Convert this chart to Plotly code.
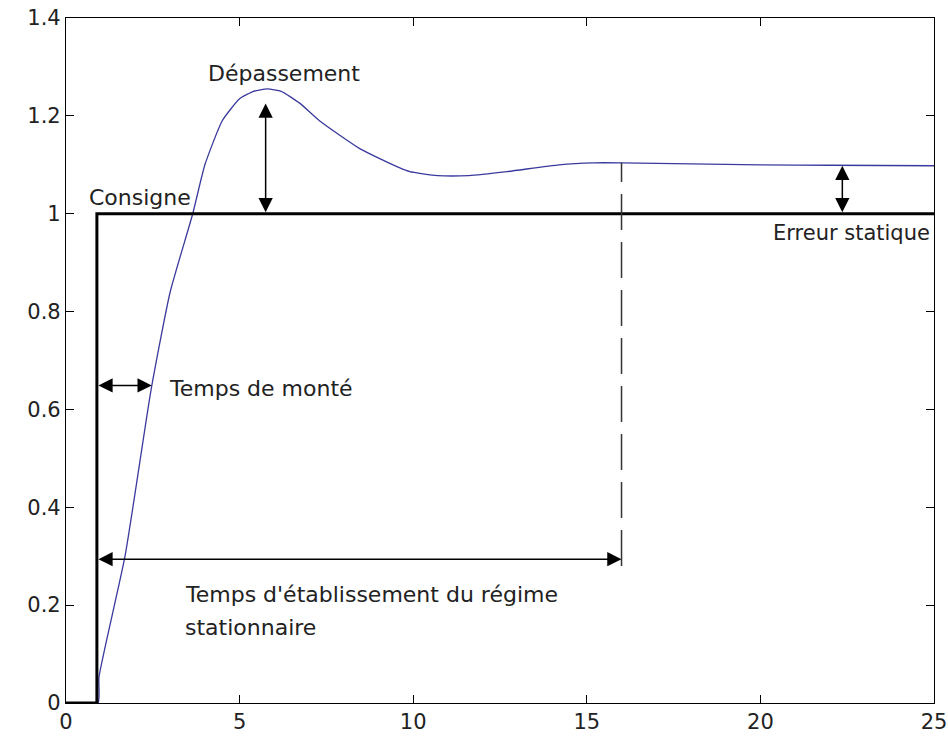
import plotly.graph_objects as go

# Setpoint (consigne) step
setpoint_t = [0, 0.89, 0.89, 25]
setpoint_y = [0, 0, 1.0, 1.0]

# System response
resp_t = [0, 0.92, 0.95, 1.7, 2.45, 3.0, 3.65, 4.0, 4.5, 5.0, 5.4, 5.8, 6.2, 6.73, 7.3, 8.46,
          9.6, 9.9, 10.7, 11.6, 12.7, 14.2, 15.2, 16.0, 18.0, 20.0, 22.0, 25.0]
resp_y = [0, 0, 0.053, 0.30, 0.64, 0.84, 1.0, 1.1, 1.19, 1.235, 1.25, 1.255, 1.25, 1.226, 1.19, 1.133,
          1.094, 1.086, 1.078, 1.078, 1.086, 1.10, 1.104, 1.104, 1.102, 1.10, 1.099, 1.098]

# Settling-time marker
settle_t = [16, 16]
settle_y = [0.28, 1.104]

x_ticks = [0, 5, 10, 15, 20, 25]
y_ticks = [0, 0.2, 0.4, 0.6, 0.8, 1.0, 1.2, 1.4]
y_tick_labels = ["0", "0.2", "0.4", "0.6", "0.8", "1", "1.2", "1.4"]

FONT = "DejaVu Sans"
TXT = "#222222"

fig = go.Figure()
fig.add_trace(go.Scatter(x=resp_t, y=resp_y, mode="lines",
                         line=dict(color="#3a3a9e", width=1.3, shape="spline", smoothing=0.5),
                         hoverinfo="skip"))
fig.add_trace(go.Scatter(x=setpoint_t, y=setpoint_y, mode="lines",
                         line=dict(color="black", width=3), hoverinfo="skip"))
fig.add_trace(go.Scatter(x=settle_t, y=settle_y, mode="lines",
                         line=dict(color="#333333", width=1.5, dash="36px,12px"), hoverinfo="skip"))

def darrow(x0, y0, x1, y1):
    return dict(x=x1, y=y1, ax=x0, ay=y0, xref="x", yref="y", axref="x", ayref="y",
                text="", showarrow=True, arrowhead=2, startarrowhead=2, arrowside="end+start",
                arrowsize=1.9, startarrowsize=1.9, arrowwidth=1.5, arrowcolor="black",
                standoff=0, startstandoff=0)

def label(x, y, text, xanchor="left", size=22):
    return dict(x=x, y=y, xref="x", yref="y", text=text, showarrow=False,
                xanchor=xanchor, yanchor="middle", font=dict(family=FONT, size=size, color=TXT))

annotations = [
    darrow(0.89, 0.649, 2.47, 0.649),
    darrow(0.89, 0.294, 16.0, 0.294),
    darrow(5.75, 1.0, 5.75, 1.225),
    darrow(22.36, 1.0, 22.36, 1.098),
    label(4.03, 1.286, "Dépassement"),
    label(0.6, 1.033, "Consigne"),
    label(-0.17, 0.649, "63%", xanchor="right"),
    label(2.9, 0.643, "Temps de monté"),
    label(20.3, 0.961, "Erreur statique", size=21),
    label(3.37, 0.222, "Temps d'établissement du régime"),
    label(3.37, 0.155, "stationnaire"),
]

axis_common = dict(showline=True, linecolor="black", linewidth=1.2, mirror="ticks",
                   ticks="inside", ticklen=8, tickcolor="black", tickwidth=1,
                   showgrid=False, zeroline=False, automargin=False,
                   ticklabeloverflow="allow",
                   tickfont=dict(family=FONT, size=21, color=TXT))

fig.update_layout(
    width=948, height=740,
    margin=dict(l=66, r=14, t=18, b=37),
    paper_bgcolor="white", plot_bgcolor="white",
    showlegend=False,
    annotations=annotations,
    xaxis=dict(range=[0, 25], tickvals=x_ticks, ticktext=[str(v) for v in x_ticks], **axis_common),
    yaxis=dict(range=[0, 1.4], tickvals=y_ticks, ticktext=y_tick_labels, **axis_common),
)

# remove the default page margin so the 948x740 figure fills the window exactly
fig.write_html("out.html",
               config={"displayModeBar": False},
               post_script="document.body.style.margin='0px';document.body.style.overflow='hidden';")
